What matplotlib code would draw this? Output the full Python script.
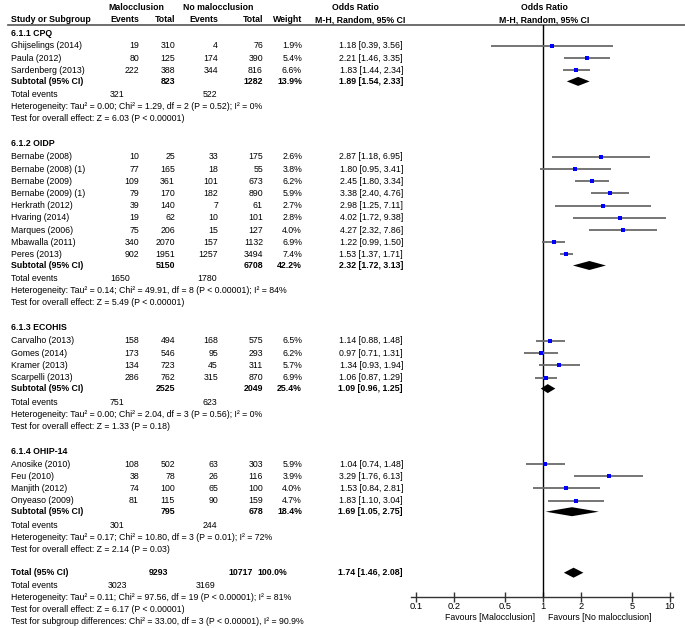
import numpy as np
import matplotlib
matplotlib.use("Agg")
import matplotlib.pyplot as plt

# ---------------- data ----------------
groups = ["6.1.1 CPQ", "6.1.2 OIDP", "6.1.3 ECOHIS", "6.1.4 OHIP-14"]

studies = [
    ["Ghijselings (2014)", "Paula (2012)", "Sardenberg (2013)"],
    ["Bernabe (2008)", "Bernabe (2008) (1)", "Bernabe (2009)", "Bernabe (2009) (1)",
     "Herkrath (2012)", "Hvaring (2014)", "Marques (2006)", "Mbawalla (2011)", "Peres (2013)"],
    ["Carvalho (2013)", "Gomes (2014)", "Kramer (2013)", "Scarpelli (2013)"],
    ["Anosike (2010)", "Feu (2010)", "Manjith (2012)", "Onyeaso (2009)"],
]
mal_events = [[19, 80, 222], [10, 77, 109, 79, 39, 19, 75, 340, 902], [158, 173, 134, 286], [108, 38, 74, 81]]
mal_total = [[310, 125, 388], [25, 165, 361, 170, 140, 62, 206, 2070, 1951], [494, 546, 723, 762], [502, 78, 100, 115]]
no_events = [[4, 174, 344], [33, 18, 101, 182, 7, 10, 15, 157, 1257], [168, 95, 45, 315], [63, 26, 65, 90]]
no_total = [[76, 390, 816], [175, 55, 673, 890, 61, 101, 127, 1132, 3494], [575, 293, 311, 870], [303, 116, 100, 159]]
weights = [[1.9, 5.4, 6.6], [2.6, 3.8, 6.2, 5.9, 2.7, 2.8, 4.0, 6.9, 7.4], [6.5, 6.2, 5.7, 6.9], [5.9, 3.9, 4.0, 4.7]]
or_est = [[1.18, 2.21, 1.83], [2.87, 1.80, 2.45, 3.38, 2.98, 4.02, 4.27, 1.22, 1.53], [1.14, 0.97, 1.34, 1.06], [1.04, 3.29, 1.53, 1.83]]
or_lo = [[0.39, 1.46, 1.44], [1.18, 0.95, 1.80, 2.40, 1.25, 1.72, 2.32, 0.99, 1.37], [0.88, 0.71, 0.93, 0.87], [0.74, 1.76, 0.84, 1.10]]
or_hi = [[3.56, 3.35, 2.34], [6.95, 3.41, 3.34, 4.76, 7.11, 9.38, 7.86, 1.50, 1.71], [1.48, 1.31, 1.94, 1.29], [1.48, 6.13, 2.81, 3.04]]

sub_mal_total = [823, 5150, 2525, 795]
sub_no_total = [1282, 6708, 2049, 678]
sub_weight = [13.9, 42.2, 25.4, 18.4]
sub_or = [1.89, 2.32, 1.09, 1.69]
sub_lo = [1.54, 1.72, 0.96, 1.05]
sub_hi = [2.33, 3.13, 1.25, 2.75]
sub_mal_events = [321, 1650, 751, 301]
sub_no_events = [522, 1780, 623, 244]
sub_het = [
    "Heterogeneity: Tau\u00b2 = 0.00; Chi\u00b2 = 1.29, df = 2 (P = 0.52); I\u00b2 = 0%",
    "Heterogeneity: Tau\u00b2 = 0.14; Chi\u00b2 = 49.91, df = 8 (P < 0.00001); I\u00b2 = 84%",
    "Heterogeneity: Tau\u00b2 = 0.00; Chi\u00b2 = 2.04, df = 3 (P = 0.56); I\u00b2 = 0%",
    "Heterogeneity: Tau\u00b2 = 0.17; Chi\u00b2 = 10.80, df = 3 (P = 0.01); I\u00b2 = 72%",
]
sub_test = [
    "Test for overall effect: Z = 6.03 (P < 0.00001)",
    "Test for overall effect: Z = 5.49 (P < 0.00001)",
    "Test for overall effect: Z = 1.33 (P = 0.18)",
    "Test for overall effect: Z = 2.14 (P = 0.03)",
]

tot_mal_total, tot_no_total, tot_weight = 9293, 10717, 100.0
tot_or, tot_lo, tot_hi = 1.74, 1.46, 2.08
tot_mal_events, tot_no_events = 3023, 3169
tot_het = "Heterogeneity: Tau\u00b2 = 0.11; Chi\u00b2 = 97.56, df = 19 (P < 0.00001); I\u00b2 = 81%"
tot_test = "Test for overall effect: Z = 6.17 (P < 0.00001)"
subgroup_test = "Test for subgroup differences: Chi\u00b2 = 33.00, df = 3 (P < 0.00001), I\u00b2 = 90.9%"

xticks = [0.1, 0.2, 0.5, 1, 2, 5, 10]
xtick_labels = ["0.1", "0.2", "0.5", "1", "2", "5", "10"]

# ---------------- layout ----------------
W, H = 685, 628
plt.rcParams['font.family'] = ['Liberation Sans', 'DejaVu Sans']
FS = 6.3
fig = plt.figure(figsize=(W / 100, H / 100), dpi=100)
tax = fig.add_axes([0, 0, 1, 1])
tax.set_xlim(0, W)
tax.set_ylim(H, 0)
tax.axis('off')

X_NAME = 11
X_ME, X_MT, X_NE, X_NT, X_W = 139, 175, 218, 263, 302
X_TE_MAL, X_TE_NO = 110, 217
X_OR = 403
X_PLOT_L, X_PLOT_R = 411, 673
Y_RULE, Y_AXIS = 25, 597


def t(x, y, s, ha='left', bold=False):
    tax.text(x, y, s, ha=ha, va='center', fontsize=FS,
             fontweight='bold' if bold else 'normal', color='black')


# headers
t((108 + 165) / 2, 7, "Malocclusion", ha='center', bold=True)
t((182 + 255) / 2, 7, "No malocclusion", ha='center', bold=True)
t(355, 7, "Odds Ratio", ha='center', bold=True)
t(544, 7, "Odds Ratio", ha='center', bold=True)
t(X_NAME, 20, "Study or Subgroup", bold=True)
t(X_ME, 20, "Events", ha='right', bold=True)
t(X_MT, 20, "Total", ha='right', bold=True)
t(X_NE, 20, "Events", ha='right', bold=True)
t(X_NT, 20, "Total", ha='right', bold=True)
t(X_W, 20, "Weight", ha='right', bold=True)
t(360, 20, "M-H, Random, 95% CI", ha='center', bold=True)
t(544, 20, "M-H, Random, 95% CI", ha='center', bold=True)
tax.plot([8, W], [Y_RULE, Y_RULE], color='#555555', lw=1.2)

# forest axes
fax = fig.add_axes([X_PLOT_L / W, 1 - Y_AXIS / H, (X_PLOT_R - X_PLOT_L) / W, (Y_AXIS - Y_RULE) / H])
fax.set_xscale('log')
fax.set_xlim(10 ** -1.04, 10 ** 1.024)
fax.set_ylim(Y_AXIS, Y_RULE)
fax.patch.set_alpha(0)
for s in ['top', 'left', 'right']:
    fax.spines[s].set_visible(False)
fax.spines['bottom'].set_color('#333333')
fax.spines['bottom'].set_linewidth(1.0)
fax.set_yticks([])
fax.set_xticks(xticks)
fax.set_xticklabels(xtick_labels, fontsize=FS + 0.4)
fax.xaxis.set_minor_locator(matplotlib.ticker.NullLocator())
fax.tick_params(axis='x', direction='inout', length=7, width=1.0, pad=0.0, color='#333333')
fax.axvline(1, color='black', lw=1.0)


def diamond(y, est, lo, hi, h=4.5):
    fax.fill([lo, est, hi, est], [y, y - h, y, y + h], color='black', lw=0)


y = 33
for g in range(len(groups)):
    t(X_NAME, y, groups[g], bold=True)
    y += 13
    for i, name in enumerate(studies[g]):
        t(X_NAME, y, name)
        t(X_ME, y, str(mal_events[g][i]), ha='right')
        t(X_MT, y, str(mal_total[g][i]), ha='right')
        t(X_NE, y, str(no_events[g][i]), ha='right')
        t(X_NT, y, str(no_total[g][i]), ha='right')
        t(X_W, y, f"{weights[g][i]:.1f}%", ha='right')
        t(X_OR, y, f"{or_est[g][i]:.2f} [{or_lo[g][i]:.2f}, {or_hi[g][i]:.2f}]", ha='right')
        fax.plot([or_lo[g][i], or_hi[g][i]], [y, y], color='#6a6a6a', lw=1.3, solid_capstyle='butt')
        fax.plot(or_est[g][i], y, 's', color='#0000ff', ms=2.3, mew=0)
        y += 12.2
    y -= 1.2
    t(X_NAME, y, "Subtotal (95% CI)", bold=True)
    t(X_MT, y, str(sub_mal_total[g]), ha='right', bold=True)
    t(X_NT, y, str(sub_no_total[g]), ha='right', bold=True)
    t(X_W, y, f"{sub_weight[g]:.1f}%", ha='right', bold=True)
    t(X_OR, y, f"{sub_or[g]:.2f} [{sub_lo[g]:.2f}, {sub_hi[g]:.2f}]", ha='right', bold=True)
    diamond(y, sub_or[g], sub_lo[g], sub_hi[g])
    y += 13.5
    t(X_NAME, y, "Total events")
    t(X_TE_MAL, y, str(sub_mal_events[g]), ha='left')
    t(X_TE_NO, y, str(sub_no_events[g]), ha='right')
    y += 12
    t(X_NAME, y, sub_het[g])
    y += 12
    t(X_NAME, y, sub_test[g])
    y += 25

y -= 1.5
t(X_NAME, y, "Total (95% CI)", bold=True)
t(168, y, str(tot_mal_total), ha='right', bold=True)
t(253, y, str(tot_no_total), ha='right', bold=True)
t(287, y, f"{tot_weight:.1f}%", ha='right', bold=True)
t(X_OR, y, f"{tot_or:.2f} [{tot_lo:.2f}, {tot_hi:.2f}]", ha='right', bold=True)
diamond(y, tot_or, tot_lo, tot_hi, h=5)
y += 13
t(X_NAME, y, "Total events")
t(108, y, str(tot_mal_events), ha='left')
t(215, y, str(tot_no_events), ha='right')
y += 12
t(X_NAME, y, tot_het)
y += 12
t(X_NAME, y, tot_test)
y += 12
t(X_NAME, y, subgroup_test)

t(535, 617, "Favours [Malocclusion]", ha='right')
t(548, 617, "Favours [No malocclusion]", ha='left')

fig.savefig("out.png", dpi=100)
